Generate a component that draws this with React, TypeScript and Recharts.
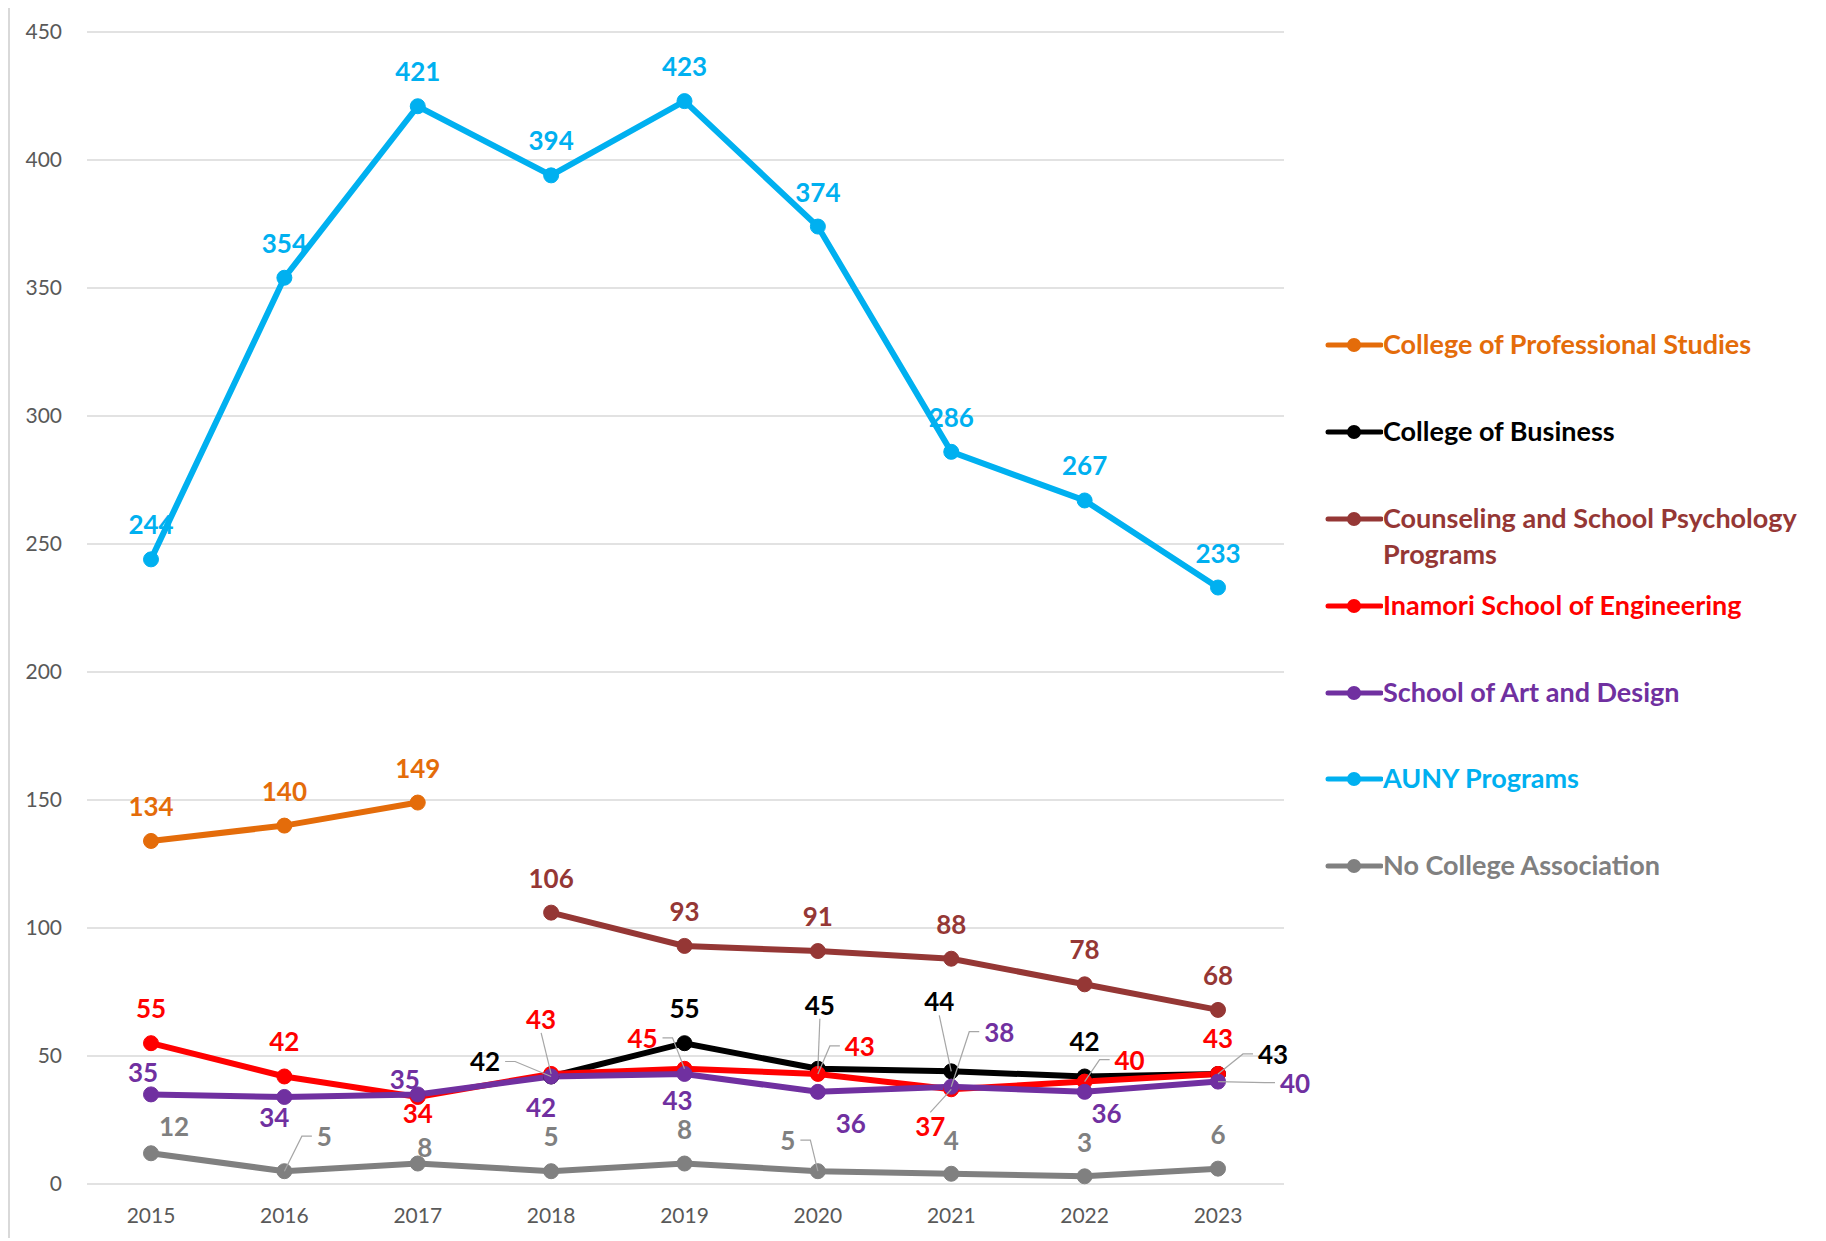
import React from 'react';
import { LineChart, Line, XAxis, YAxis, CartesianGrid } from 'recharts';

const years = ['2015', '2016', '2017', '2018', '2019', '2020', '2021', '2022', '2023'];
const professionalStudies = [134, 140, 149, null, null, null, null, null, null];
const business = [null, null, null, 42, 55, 45, 44, 42, 43];
const counseling = [null, null, null, 106, 93, 91, 88, 78, 68];
const engineering = [55, 42, 34, 43, 45, 43, 37, 40, 43];
const artDesign = [35, 34, 35, 42, 43, 36, 38, 36, 40];
const auny = [244, 354, 421, 394, 423, 374, 286, 267, 233];
const noCollege = [12, 5, 8, 5, 8, 5, 4, 3, 6];
const yTicks = [0, 50, 100, 150, 200, 250, 300, 350, 400, 450];

const series = [
  { key: 'cps', name: 'College of Professional Studies', color: '#E46C0A', values: professionalStudies },
  { key: 'cob', name: 'College of Business', color: '#000000', values: business },
  { key: 'csp', name: 'Counseling and School Psychology Programs', color: '#953735', values: counseling },
  { key: 'ise', name: 'Inamori School of Engineering', color: '#FF0000', values: engineering },
  { key: 'sad', name: 'School of Art and Design', color: '#7030A0', values: artDesign },
  { key: 'auny', name: 'AUNY Programs', color: '#00B0F0', values: auny },
  { key: 'nca', name: 'No College Association', color: '#808080', values: noCollege },
];

const data = years.map((year, i) => {
  const row: Record<string, any> = { year };
  series.forEach((s) => { row[s.key] = s.values[i]; });
  return row;
});

// label placement relative to each point: [dx, dy, leader line]
const labelPos: Record<string, Array<[number, number, boolean?]>> = {
  cob: [[0, -35], [0, -35], [0, -35], [-66, -15, true], [0, -35], [2, -64, true], [-12, -70, true], [0, -35], [55, -20, true]],
  ise: [[0, -35], [0, -35], [0, 16], [-10, -55, true], [-42, -31, true], [42, -28, true], [-21, 37, true], [45, -22, true], [0, -36]],
  sad: [[-8, -22], [-10, 20], [-13, -15], [-10, 31], [-7, 26], [33, 31], [48, -55, true], [22, 21], [77, 1, true]],
  nca: [[23, -27], [40, -35, true], [7, -17], [0, -35], [0, -35], [-30, -31, true], [0, -34], [0, -34], [0, -35]],
};

const FONT = 'Lato, "Open Sans", sans-serif';

const makeLabel = (key: string, color: string) => (props: any) => {
  const { x, y, value, index } = props;
  if (value == null || x == null || y == null) return null;
  const [dx, dy, leader] = labelPos[key]?.[index] ?? [0, -35, false];
  const lx = x + dx;
  const ly = y + dy;
  const halfW = String(value).length * 7.5 + 3;
  let path: string | null = null;
  if (leader) {
    if (Math.abs(dx) > halfW + 6) {
      const s = Math.sign(dx);
      const sx = lx - s * (halfW + 2);
      const ex = sx - s * 10;
      path = `M${sx},${ly} L${ex},${ly} L${x},${y}`;
    } else {
      const s = Math.sign(dy);
      path = `M${lx},${ly - s * 14} L${x},${y}`;
    }
  }
  return (
    <g key={`${key}-${index}`}>
      {path && <path d={path} stroke="#a6a6a6" strokeWidth={1.2} fill="none" />}
      <text x={lx} y={ly} textAnchor="middle" dominantBaseline="central" fill={color}
        fontSize={26} fontWeight={700} fontFamily={FONT}>{value}</text>
    </g>
  );
};

const legendY = [337, 424, 511, 598, 685, 771, 858];

const LegendBox = () => (
  <div>
    {series.map((s, i) => (
      <div key={s.key} style={{ position: 'absolute', left: 1315, top: legendY[i] - 18, display: 'flex', alignItems: 'flex-start' }}>
        <svg width={58} height={36} style={{ flex: 'none' }}>
          <line x1={3} y1={18} x2={56} y2={18} stroke={s.color} strokeWidth={5} strokeLinecap="round" />
          <circle cx={29} cy={18} r={7} fill={s.color} />
        </svg>
        <div style={{ color: s.color, fontFamily: FONT, fontWeight: 700, fontSize: 27, lineHeight: '36px', marginTop: -1, whiteSpace: 'nowrap' }}>
          {s.key === 'csp' ? (<>Counseling and School Psychology<br />Programs</>) : s.name}
        </div>
      </div>
    ))}
  </div>
);

const App = () => (
  <div style={{ position: 'relative', width: 1814, height: 1230, borderLeft: '2px solid #d9d9d9', borderRight: '2px solid #d9d9d9' }}>
    <LineChart width={1814} height={1230} data={data} margin={{ top: 24, right: 540, left: 0, bottom: 4 }}>
      <CartesianGrid vertical={false} stroke="#d9d9d9" strokeWidth={1.5} />
      <XAxis dataKey="year" axisLine={false} tickLine={false} padding={{ left: 64, right: 66 }} height={50}
        tickMargin={18} tick={{ fill: '#595959', fontSize: 21, fontFamily: FONT }} />
      <YAxis domain={[0, 450]} ticks={yTicks} axisLine={false} tickLine={false} width={77} tickMargin={19}
        tick={{ fill: '#595959', fontSize: 21, fontFamily: FONT }} />
      {series.map((s) => (
        <Line key={s.key} dataKey={s.key} name={s.name} stroke={s.color} strokeWidth={6}
          dot={{ r: 7.5, fill: s.color, stroke: s.color, strokeWidth: 1 }} activeDot={false}
          isAnimationActive={false} label={makeLabel(s.key, s.color)} />
      ))}
    </LineChart>
    <LegendBox />
  </div>
);

export default App;
